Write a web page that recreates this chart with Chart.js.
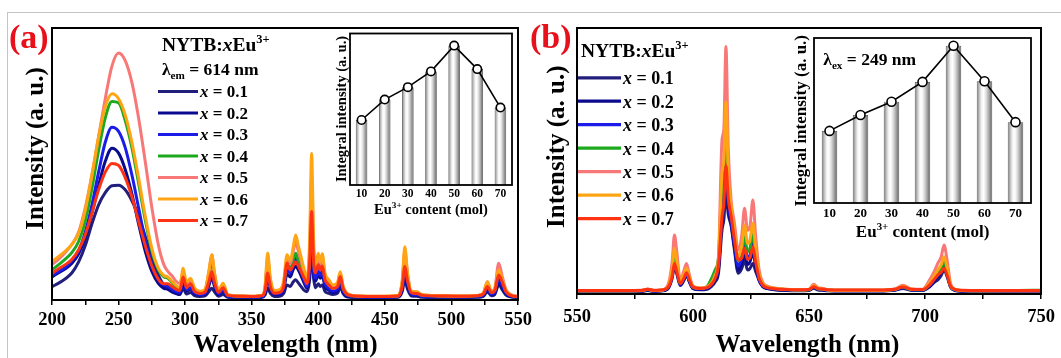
<!DOCTYPE html>
<html>
<head>
<meta charset="utf-8">
<script src="https://cdn.jsdelivr.net/npm/chart.js@4.4.1/dist/chart.umd.min.js"></script>
<style>
  html, body { margin: 0; padding: 0; background: #fff; }
  #fig { position: relative; width: 1061px; height: 358px; overflow: hidden; background: #fff; }
  #fig canvas { position: absolute; top: 0; }
  #edge { position: absolute; left: 7px; top: 12px; width: 1080px; height: 400px;
          border-left: 1px solid #c4c4c4; border-top: 1px solid #c4c4c4; }
</style>
</head>
<body>
<div id="fig">
  <div id="edge"></div>
  <canvas id="specA" width="545" height="358" style="left:0"></canvas>
  <canvas id="specB" width="531" height="358" style="left:530px"></canvas>
  <canvas id="insetA" width="545" height="358" style="left:0"></canvas>
  <canvas id="insetB" width="531" height="358" style="left:530px"></canvas>
</div>
<script>
// ---- series shared by both panels ----
const seriesLabels = ['0.1', '0.2', '0.3', '0.4', '0.5', '0.6', '0.7'];
const seriesColors = ['#221e7c', '#0a0a8e', '#1c1ce8', '#1ea81e', '#f87878', '#ffa514', '#ff3214'];

// ---- (a) excitation spectra, monitored at 614 nm ----
const excWavelength = [200,205,210,215,220,225,230,235,240,245,
  250,255,260,265,270,275,280,284,287,290,293,296,
  298.5,301,304,307,311,315,318,320,322,325,328.5,332,340,350,358,
  360,362,364,367,371,374,376.5,379,381,383,385,387,389.5,391.5,393.5,
  395,396.5,398,400,401.5,403,405,408,411,414.5,416.5,418.5,422,430,445,
  460,463,465,467,470,474,478,490,505,520,524,527,530,532.5,535.5,538.5,541,545,550];

const excX01 = [4.9,6.2,7.8,10,14,20,28,35,39.5,42,
  42.2,40.5,36.5,31,23.5,15.5,9,5.5,4,3,2.4,2,
  4.3,2.2,2.8,1.6,1.3,1.5,3.2,4.3,3,1.4,2,1.0,0.9,0.8,1.0,
  1.8,4.3,2.4,1.3,1.4,2.4,5.5,5,6.5,7.4,6.3,5,3.5,3.0,7.5,
  18.4,8,4.5,6,5,5.5,3.2,2.4,2.0,2.5,4.9,2.5,1.1,0.9,0.8,
  1.0,3,7.4,4,1.5,1.4,1.0,0.9,0.9,1.0,1.4,3,1.6,2,5.5,3.5,1.8,1.1,0.9];
const excX02 = [8.5,10,11.5,13.5,17,23,32,42,51,55.8,
  54,48,39,28,18,10.5,6,4.3,4,3.2,2.6,2.2,
  6.5,3.2,4,2.2,1.8,2.2,5.5,8.5,5,2,3,1.3,1.1,1.0,1.2,
  2.6,8.5,4.2,2,2.1,3.8,9.5,8.5,11,12.5,11,9,6,4.3,9.5,
  22,9.5,7,9.5,8,9,5,3.6,2.8,3.5,6,3,1.4,1.1,1.0,
  1.2,4,10.5,5.5,2,1.8,1.3,1.1,1.1,1.2,1.6,3.8,2,2.5,6.5,4.4,2.2,1.3,1.0];
const excX03 = [9.0,10.5,12,14.5,18,25,35,47,58,63.5,
  62,56,46,34,22,13,7.5,5.5,5,4,3.2,2.8,
  7.5,3.8,4.5,2.6,2,2.5,6.5,10,6,2.3,3.5,1.4,1.2,1.1,1.3,
  3,10,4.8,2.3,2.4,4.5,11,10,13,15.3,13,10.5,7,5,11,
  26,11,8,11,9,10.5,6,4.2,3.2,4,7,3.5,1.6,1.2,1.1,
  1.3,4.5,12,6.5,2.2,2,1.4,1.2,1.2,1.3,1.8,4.3,2.2,2.8,7.5,5,2.5,1.4,1.1];
const excX04 = [11.1,13,15,17.5,21.5,29,41,55,67,73,
  72.5,66,56,43,29.5,18,11,8.5,8,6.5,5,4,
  9.5,5.5,6.5,3.8,2.8,3.5,9.5,14.2,8.5,3.2,5,1.8,1.4,1.3,1.6,
  4.2,14,6.5,3,3.2,5.5,13,11.5,14.5,17.2,14.5,12,8.5,6.5,16,
  35.5,15,10.5,14,11.5,13.5,8,5.8,4.4,5.2,9,4.5,2,1.4,1.3,
  1.5,6,15.4,8,2.8,2.6,1.7,1.5,1.4,1.6,2.3,5.5,2.8,3.5,10,6.5,3.2,1.7,1.2];
const excX05 = [13,15,17.5,20.5,25,34,46,60,74,86,
  90.8,88,80,67,51,34,20,13,10.5,9,7,6,
  10,5.5,7,4,3,3.8,11,16.6,10,3.5,5.5,2,1.5,1.4,1.7,
  4.5,15,7,3.2,3.5,6.5,15,13.5,17.5,21.4,18,14.5,10,7.5,18,
  45,18,12,16,13,16,9,6.5,5,6,10,5,2.2,1.5,1.4,
  1.6,6.5,18,9.5,3,3,1.9,1.6,1.5,1.7,2.6,6.7,3.2,4.2,13.5,8,3.8,1.9,1.3];
const excX06 = [14.2,16,18,20.5,24.5,33,46,60,71,75.8,
  74,68,58,45,31,19,11.5,9,8.5,7,5.5,4.5,
  11.7,6.5,8,4.5,3.2,4,11,16.6,10,3.5,6.2,2,1.5,1.4,1.8,
  5,17.3,8,3.5,3.8,7,16.6,14.5,19,23.9,20,16,11,8,22,
  53.9,22,13,17.2,14,17,10,7.4,5.5,6.5,10.4,5.5,2.3,1.5,1.4,
  1.7,7,19.6,10,3.2,3,1.9,1.6,1.5,1.7,2.6,6.7,3.2,4,11,7,3.5,1.8,1.3];
const excX07 = [9.8,11.5,13,15,18.5,24,32,40.5,47,50.2,
  49.5,45,38,29,20,12.5,7.5,6,6,5,4,3.5,
  8.5,4.5,6,3.2,2.4,3,7,10.5,6.5,2.8,4.5,1.7,1.4,1.3,1.6,
  3.5,9.9,5,2.5,2.8,5,13.6,11,12.5,14.1,12.5,10.5,8,6,14,
  32.5,14,10,13,11,12.5,7.5,5.5,4.2,5,8.6,4.5,2,1.4,1.3,
  1.5,5,12.3,7,2.6,2.4,1.7,1.5,1.4,1.6,2.2,5,2.7,3.4,9.2,6.2,3,1.6,1.2];

// ---- (b) emission spectra, excited at 249 nm ----
const emWavelength = [550,570,578,580.5,583,586,589,591,592,593,
  594.5,596,597.2,598.5,600,603,606,608,609.5,611,
  612.5,613.3,614.2,615.2,616.5,617.8,619.5,621,622.2,623.5,
  624.5,625.8,627,628.5,630,632,635,640,646,650,
  652,654,655.5,658,665,680,687,690.5,694,699,
  702,704,705.5,707,708.2,709.5,711,713,716,725,740,750];

const emX01 = [0.9,0.9,1.0,1.3,1.0,1.1,1.8,5.8,10.3,7.6,
  3.2,5,7.1,4.4,2.0,1.6,1.8,2.9,4.5,8,
  24,28,38,30,25.3,17,7.8,9.5,12.8,9,
  9.5,11.5,8.5,5.3,2.8,2.0,1.6,1.3,1.2,1.3,
  2.2,1.5,1.4,1.2,1.1,1.1,1.4,2.1,1.4,1.3,
  2.7,4.4,5.3,7,9.0,6.6,2.6,1.3,1.0,0.9,0.9,0.9];
const emX02 = [1.0,1.0,1.1,1.5,1.1,1.2,2.0,6.8,12.5,9,
  3.4,5.2,7.2,4.5,2.1,1.7,2.0,3.4,5.5,9.5,
  31,35,52,33,26,18,9,11.5,15.5,11,
  12,15.5,10.5,5,2.9,2.1,1.7,1.4,1.3,1.4,
  2.4,1.7,1.6,1.3,1.2,1.2,1.5,2.3,1.5,1.4,
  2.9,4.8,6.4,8.2,10.5,7.5,2.7,1.4,1.1,1.0,1.0,1.0];
const emX03 = [1.1,1.1,1.2,1.6,1.2,1.3,2.2,7.5,14,10,
  3.7,5.6,7.6,4.8,2.3,1.9,2.2,3.8,6.2,11,
  36,40,57,36,27,19.5,10.5,13.5,19,13.5,
  14.5,19.5,12.5,5.6,3.2,2.3,1.9,1.6,1.4,1.5,
  2.6,1.8,1.7,1.4,1.3,1.3,1.6,2.4,1.6,1.5,
  3.2,5.4,7.2,9,11.6,8.2,2.9,1.5,1.2,1.1,1.1,1.1];
const emX04 = [1.2,1.2,1.3,1.7,1.3,1.4,2.4,8,14.5,10.5,
  4,6.2,8.5,5.4,2.6,2.1,2.8,5.9,9.0,14,
  42,46,66,41,30,22,12.5,15.5,21.5,16,
  17,22.5,14.5,6.5,3.6,2.6,2.1,1.7,1.5,1.6,
  2.8,1.9,1.8,1.5,1.4,1.4,1.7,2.6,1.7,1.6,
  3.6,6,8,9.6,12,8.6,3.0,1.6,1.3,1.2,1.3,1.4];
const emX05 = [1.2,1.2,1.3,1.9,1.3,1.4,3.0,12,22.2,16,
  5.3,8.5,11.5,7,3.0,2.3,2.6,4.0,6.5,14,
  57.9,62,93,55,34.7,27,16.5,22,32.2,24,
  25,35.3,22,9,4.5,3.0,2.3,1.8,1.6,1.8,
  3.7,2.3,2.2,1.6,1.4,1.4,1.9,3.3,1.9,1.8,
  5.3,8.5,11.5,14,18.4,13,4.0,1.8,1.3,1.2,1.2,1.2];
const emX06 = [1.2,1.2,1.3,1.8,1.3,1.4,2.6,9.5,17.2,12.5,
  4.5,7.2,9.7,6,2.8,2.2,2.6,4.2,7,13,
  45.5,50,72.2,45,32.8,24,14,18,25.9,19,
  20,26.6,17,7.5,4,2.8,2.2,1.8,1.6,1.7,
  3.2,2.1,2.0,1.5,1.4,1.4,1.8,2.9,1.8,1.7,
  4.2,6.8,9,11,14,10,3.4,1.7,1.3,1.2,1.2,1.2];
const emX07 = [1.3,1.3,1.4,1.8,1.4,1.5,2.3,6.5,11.5,8.5,
  3.9,5.8,8.0,5.2,2.6,2.1,2.4,3.7,5.8,11,
  29,34,48.3,36,29,21,12.8,13.5,17.2,13,
  13.5,17.8,12,6,3.4,2.4,2.0,1.7,1.6,1.7,
  2.7,2.0,1.9,1.6,1.5,1.5,1.8,2.6,1.8,1.7,
  3.4,5.5,7.1,8.2,9.7,7.2,3.0,1.7,1.4,1.3,1.3,1.3];

// ---- inset bars: integrated intensity vs Eu3+ content ----
const contentLabels = ['10', '20', '30', '40', '50', '60', '70'];
const integralExc = [42.9, 56.4, 64.6, 75.0, 92.0, 76.5, 51.1];
const integralEm = [43.7, 53.3, 61.4, 73.4, 95.3, 73.8, 49.0];

// ---------------------------------------------------------------
const SERIF = '"Liberation Serif", "Times New Roman", serif';
const fontStr = (size, italic) => (italic ? 'italic ' : '') + 'bold ' + size + 'px ' + SERIF;

// text made of runs: ['text', kind] with kind '', 'i', 'sup' or 'sub'
function richText(ctx, runs, x, baseline, size, align) {
  const parts = runs.map(([t, k]) => {
    const small = k === 'sup' || k === 'sub';
    const font = fontStr(small ? size * 0.64 : size, k === 'i');
    ctx.font = font;
    const dy = k === 'sup' ? -size * 0.4 : k === 'sub' ? size * 0.24 : 0;
    return { t, font, dy, w: ctx.measureText(t).width };
  });
  const total = parts.reduce((s, p) => s + p.w, 0);
  let cx = align === 'center' ? x - total / 2 : x;
  ctx.save();
  ctx.fillStyle = '#000';
  ctx.textAlign = 'left';
  ctx.textBaseline = 'alphabetic';
  for (const p of parts) { ctx.font = p.font; ctx.fillText(p.t, cx, baseline + p.dy); cx += p.w; }
  ctx.restore();
}

function verticalText(ctx, text, x, y, size) {
  ctx.save();
  ctx.translate(x, y);
  ctx.rotate(-Math.PI / 2);
  ctx.font = fontStr(size);
  ctx.fillStyle = '#000';
  ctx.textAlign = 'center';
  ctx.textBaseline = 'middle';
  ctx.fillText(text, 0, 0);
  ctx.restore();
}

function frame(ctx, area, w) {
  ctx.save();
  ctx.strokeStyle = '#000';
  ctx.lineWidth = w;
  ctx.strokeRect(area.left, area.top, area.right - area.left, area.bottom - area.top);
  ctx.restore();
}

function seriesLegend(ctx, chart, lx0, lx1, tx, ys, size) {
  chart.data.datasets.forEach((ds, i) => {
    const y = ys[i];
    ctx.save();
    ctx.strokeStyle = ds.borderColor;
    ctx.lineWidth = 3.2;
    ctx.beginPath(); ctx.moveTo(lx0, y); ctx.lineTo(lx1, y); ctx.stroke();
    ctx.restore();
    richText(ctx, [['x', 'i'], [' = ' + ds.label, '']], tx, y + size * 0.35, size);
  });
}

function spectrumChart(id, wl, seriesVals, box, xMin, xMax, tickPad, decorate) {
  const cv = document.getElementById(id);
  const W = cv.width, H = cv.height, XH = 30;
  return new Chart(cv, {
    type: 'line',
    data: {
      datasets: seriesVals.map((vals, i) => ({
        label: seriesLabels[i],
        data: wl.map((w, k) => ({ x: w, y: vals[k] })),
        borderColor: seriesColors[i],
        borderWidth: 3,
        pointRadius: 0,
        fill: false,
        cubicInterpolationMode: 'monotone',
        order: seriesVals.length - i
      }))
    },
    options: {
      responsive: false, animation: false, devicePixelRatio: 1, events: [],
      layout: { padding: { left: box.left, right: W - box.right, top: box.top, bottom: H - box.bottom - XH } },
      plugins: { legend: { display: false }, tooltip: { enabled: false } },
      scales: {
        x: {
          type: 'linear', min: xMin, max: xMax,
          ticks: {
            stepSize: 25, autoSkip: false, maxRotation: 0, padding: tickPad, color: '#000',
            font: { family: SERIF, size: 18.5, weight: 'bold' },
            callback: v => (v % 50 === 0 ? String(v) : '')
          },
          grid: { drawOnChartArea: false, drawTicks: true, tickLength: 5, color: '#000', lineWidth: 1.5 },
          border: { display: false },
          afterFit: s => { s.height = XH; s.paddingLeft = 0; s.paddingRight = 0; }
        },
        y: { display: false, min: 0, max: 100 }
      }
    },
    plugins: [{
      id: 'decor',
      afterDraw(chart) {
        frame(chart.ctx, chart.chartArea, 2);
        decorate(chart.ctx, chart);
      }
    }]
  });
}

function cylinderFill(c) {
  const chart = c.chart, xs = chart.scales.x, area = chart.chartArea;
  if (!area || c.dataIndex === undefined) return '#d0d0d0';
  const cx = xs.getPixelForValue(c.dataIndex);
  const half = (area.right - area.left) / contentLabels.length * 0.5 / 2;
  const g = chart.ctx.createLinearGradient(cx - half, 0, cx + half, 0);
  g.addColorStop(0, '#6a6a6a');
  g.addColorStop(0.14, '#b8b8b8');
  g.addColorStop(0.32, '#f6f6f6');
  g.addColorStop(0.45, '#ffffff');
  g.addColorStop(0.62, '#dadada');
  g.addColorStop(0.84, '#979797');
  g.addColorStop(1, '#585858');
  return g;
}

function insetChart(id, values, box, tickSize, tickPad, pointR, decorate) {
  const cv = document.getElementById(id);
  const W = cv.width, H = cv.height, XH = 22;
  return new Chart(cv, {
    type: 'bar',
    data: {
      labels: contentLabels,
      datasets: [
        { type: 'line', data: values, borderColor: '#000', borderWidth: 1.6,
          pointRadius: pointR, pointBackgroundColor: '#fff', pointBorderColor: '#000',
          pointBorderWidth: 1.6, tension: 0, order: 0 },
        { type: 'bar', data: values, backgroundColor: cylinderFill, borderColor: '#4a4a4a',
          borderWidth: 0.8, borderSkipped: 'bottom', barPercentage: 0.5, categoryPercentage: 1, order: 1 }
      ]
    },
    options: {
      responsive: false, animation: false, devicePixelRatio: 1, events: [],
      layout: { padding: { left: box.left, right: W - box.right, top: box.top, bottom: H - box.bottom - XH } },
      plugins: { legend: { display: false }, tooltip: { enabled: false } },
      scales: {
        x: {
          ticks: { color: '#000', padding: tickPad, font: { family: SERIF, size: tickSize, weight: 'bold' } },
          grid: { display: false, drawTicks: false },
          border: { display: false },
          afterFit: s => { s.height = XH; s.paddingLeft = 0; s.paddingRight = 0; }
        },
        y: { display: false, min: 0, max: 100 }
      }
    },
    plugins: [{
      id: 'insetDecor',
      afterDraw(chart) {
        frame(chart.ctx, chart.chartArea, 1.8);
        decorate(chart.ctx, chart);
      }
    }]
  });
}

// ---- panel (a) ----
spectrumChart('specA', excWavelength,
  [excX01, excX02, excX03, excX04, excX05, excX06, excX07],
  { left: 52, right: 518, top: 28, bottom: 300 }, 200, 550, 4,
  (ctx, chart) => {
    ctx.save();
    ctx.fillStyle = '#e8101a';
    ctx.font = fontStr(34);
    ctx.textBaseline = 'alphabetic';
    ctx.fillText('(a)', 9, 48);
    ctx.restore();
    richText(ctx, [['NYTB:', ''], ['x', 'i'], ['Eu', ''], ['3+', 'sup']], 162, 51, 19.5);
    richText(ctx, [['λ', ''], ['em', 'sub'], [' = 614 nm', '']], 162, 74.5, 17.5);
    seriesLegend(ctx, chart, 158, 198, 200, [91.5, 113, 134.5, 156, 177.5, 199, 220.5], 17);
    verticalText(ctx, 'Intensity (a. u.)', 37, 148.5, 25);
    richText(ctx, [['Wavelength (nm)', '']], 285.5, 352, 25, 'center');
  });

insetChart('insetA', integralExc, { left: 350, right: 512, top: 33.5, bottom: 185 }, 11.5, 2.5, 4.2,
  (ctx) => {
    verticalText(ctx, 'Integral intensity (a. u.)', 342.4, 109, 14.5);
    richText(ctx, [['Eu', ''], ['3+', 'sup'], [' content (mol)', '']], 431, 213.5, 14.5, 'center');
  });

// ---- panel (b) ----
spectrumChart('specB', emWavelength,
  [emX01, emX02, emX03, emX04, emX05, emX06, emX07],
  { left: 47, right: 511, top: 28, bottom: 294 }, 550, 750, 7.5,
  (ctx, chart) => {
    ctx.save();
    ctx.fillStyle = '#e8101a';
    ctx.font = fontStr(34);
    ctx.textBaseline = 'alphabetic';
    ctx.fillText('(b)', 0, 48);
    ctx.restore();
    richText(ctx, [['NYTB:', ''], ['x', 'i'], ['Eu', ''], ['3+', 'sup']], 51, 57, 19.5);
    seriesLegend(ctx, chart, 48, 91, 93, [77.8, 101.2, 124.7, 148.2, 171.6, 195.1, 218.6], 18);
    verticalText(ctx, 'Intensity (a. u.)', 27.7, 146.7, 25);
    richText(ctx, [['Wavelength (nm)', '']], 277.4, 352, 25, 'center');
  });

insetChart('insetB', integralEm, { left: 284, right: 501, top: 38, bottom: 203 }, 13, 2.7, 4.5,
  (ctx) => {
    verticalText(ctx, 'Integral intensity (a. u.)', 271.5, 120.7, 17);
    richText(ctx, [['Eu', ''], ['3+', 'sup'], [' content (mol)', '']], 392.6, 236.5, 17, 'center');
    richText(ctx, [['λ', ''], ['ex', 'sub'], [' = 249 nm', '']], 293.3, 65, 17.5);
  });
</script>
</body>
</html>
